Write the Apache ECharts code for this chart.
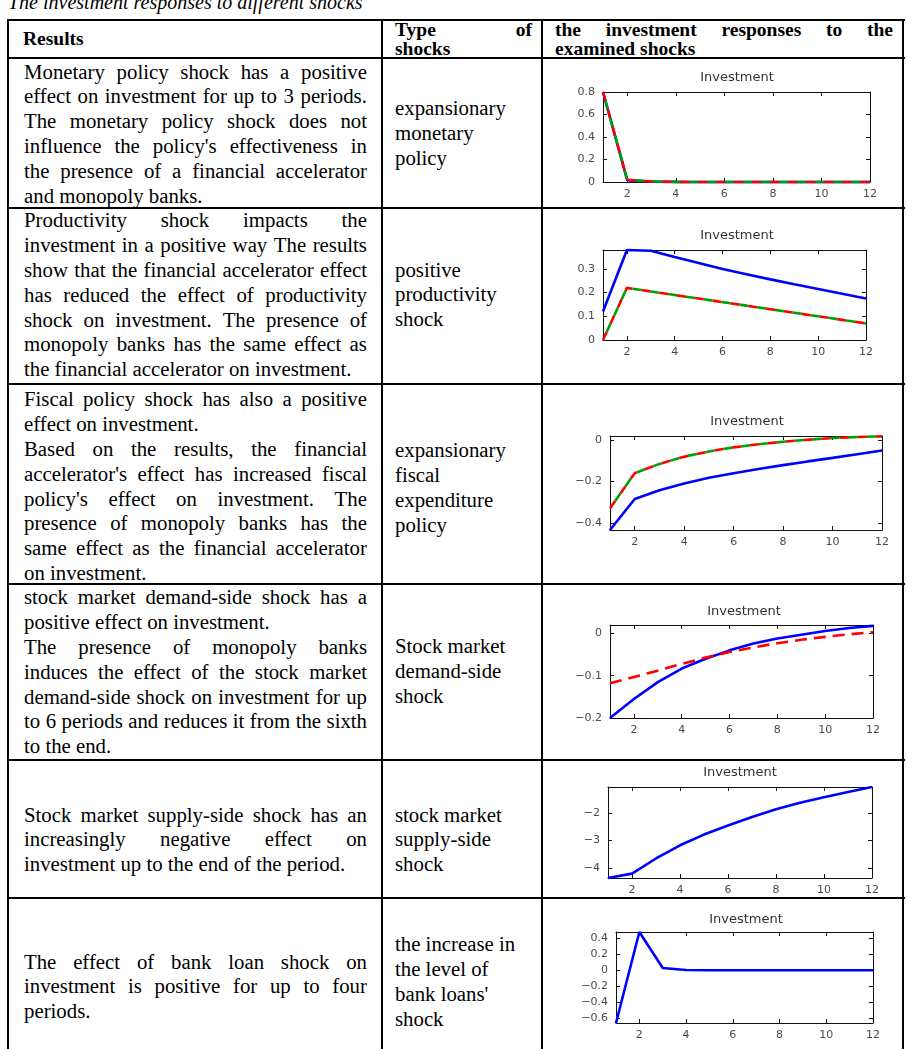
<!DOCTYPE html>
<html>
<head>
<meta charset="utf-8">
<script src="https://cdn.jsdelivr.net/npm/echarts/dist/echarts.min.js"></script>
<style>
html,body{margin:0;padding:0;background:#fff;}
body{width:906px;height:1049px;overflow:hidden;position:relative;font-family:"Liberation Serif","Times New Roman",serif;color:#000;}
.hl{position:absolute;height:2px;background:#000;}
.vl{position:absolute;width:2px;background:#000;}
.blk{position:absolute;font-size:20.8px;}
.ln{height:24.9px;line-height:24.9px;white-space:nowrap;}
.j{display:flex;justify-content:space-between;}
.hdr{font-weight:bold;font-size:19.5px;}
.hdr .ln{height:18.5px;line-height:18.5px;}
#cap{position:absolute;left:8px;top:-10px;font-style:italic;font-size:20px;line-height:24px;white-space:nowrap;}
#chart{position:absolute;left:0;top:0;width:906px;height:1049px;z-index:2;}
</style>
</head>
<body>
<div id="cap">The investment responses to different shocks</div>
<div id="table"></div>
<div id="chart"></div>
<script>
// ---------------- DATA ----------------
const periods = [1,2,3,4,5,6,7,8,9,10,11,12];
const xTickValues = [2,4,6,8,10,12];

// 1) expansionary monetary policy
const monetaryBlue  = [0.8,0.015,0.003,0.001,0,0,0,0,0,0,0,0];
const monetaryRed   = [0.8,0.02,0.004,0.001,0,0,0,0,0,0,0,0];
const monetaryGreen = [0.8,0.02,0.004,0.001,0,0,0,0,0,0,0,0];
const monetaryYTicks = [0,0.2,0.4,0.6,0.8];

// 2) positive productivity shock
const productivityBlue  = [0.12,0.38,0.377,0.35,0.325,0.3,0.278,0.256,0.235,0.215,0.195,0.175];
const productivityRed   = [0,0.22,0.205,0.19,0.175,0.16,0.145,0.13,0.115,0.1,0.085,0.07];
const productivityGreen = [0,0.22,0.205,0.19,0.175,0.16,0.145,0.13,0.115,0.1,0.085,0.07];
const productivityYTicks = [0,0.1,0.2,0.3];

// 3) expansionary fiscal expenditure policy
const fiscalBlue  = [-0.435,-0.285,-0.243,-0.21,-0.182,-0.16,-0.14,-0.121,-0.103,-0.086,-0.068,-0.05];
const fiscalRed   = [-0.33,-0.16,-0.115,-0.08,-0.055,-0.035,-0.02,-0.008,0.002,0.01,0.015,0.018];
const fiscalGreen = [-0.33,-0.16,-0.115,-0.08,-0.055,-0.035,-0.02,-0.008,0.002,0.01,0.015,0.018];
const fiscalYTicks = [-0.4,-0.2,0];

// 4) stock market demand-side shock
const demandBlue = [-0.2,-0.155,-0.115,-0.083,-0.06,-0.04,-0.024,-0.012,-0.003,0.006,0.013,0.018];
const demandRed  = [-0.118,-0.103,-0.088,-0.072,-0.057,-0.044,-0.033,-0.023,-0.015,-0.008,-0.002,0.003];
const demandYTicks = [-0.2,-0.1,0];

// 5) stock market supply-side shock
const supplyBlue = [-4.36,-4.2,-3.65,-3.17,-2.78,-2.45,-2.14,-1.86,-1.62,-1.42,-1.23,-1.05];
const supplyYTicks = [-4,-3,-2];

// 6) bank loans shock
const loanBlue = [-0.66,0.48,0.03,0.004,0,0,0,0,0,0,0,0];
const loanYTicks = [-0.6,-0.4,-0.2,0,0.2,0.4];

// ---------------- TABLE ----------------
const H_LINES = [20,58,208,384,584,760,898];
const V_LINES = [8,382,542,903];
const tbl = document.getElementById('table');
H_LINES.forEach(y=>{const d=document.createElement('div');d.className='hl';d.style.left='8px';d.style.width='897px';d.style.top=(y-1)+'px';tbl.appendChild(d);});
V_LINES.forEach(x=>{const d=document.createElement('div');d.className='vl';d.style.left=(x-1)+'px';d.style.top=(H_LINES[0]-1)+'px';d.style.height='1100px';tbl.appendChild(d);});

// '^' prefix = line not justified
const blocks = [
 {x:23,y:30,w:120,hdr:true,lines:['^Results']},
 {x:395,y:21,w:137,hdr:true,lines:['Type of','^shocks']},
 {x:555,y:21,w:338,hdr:true,lines:['the investment responses to the','^examined shocks']},
 {x:24,y:59.5,w:343,lines:['Monetary policy shock has a positive','effect on investment for up to 3 periods.','The monetary policy shock does not',"influence the policy's effectiveness in",'the presence of a financial accelerator','^and monopoly banks.']},
 {x:395,y:96,w:137,lines:['^expansionary','^monetary','^policy']},
 {x:24,y:208,w:343,lines:['Productivity shock impacts the','investment in a positive way The results','show that the financial accelerator effect','has reduced the effect of productivity','shock on investment. The presence of','monopoly banks has the same effect as','^the financial accelerator on investment.']},
 {x:395,y:257.5,w:137,lines:['^positive','^productivity','^shock']},
 {x:24,y:387,w:343,lines:['Fiscal policy shock has also a positive','^effect on investment.','Based on the results, the financial',"accelerator's effect has increased fiscal","policy's effect on investment. The",'presence of monopoly banks has the','same effect as the financial accelerator','^on investment.']},
 {x:395,y:438,w:137,lines:['^expansionary','^fiscal','^expenditure','^policy']},
 {x:24,y:585,w:343,lines:['stock market demand-side shock has a','^positive effect on investment.','The presence of monopoly banks','induces the effect of the stock market','demand-side shock on investment for up','to 6 periods and reduces it from the sixth','^to the end.']},
 {x:395,y:634,w:137,lines:['^Stock market','^demand-side','^shock']},
 {x:24,y:802.5,w:343,lines:['Stock market supply-side shock has an','increasingly negative effect on','^investment up to the end of the period.']},
 {x:395,y:802.5,w:137,lines:['^stock market','^supply-side','^shock']},
 {x:24,y:949.5,w:343,lines:['The effect of bank loan shock on','investment is positive for up to four','^periods.']},
 {x:395,y:932,w:137,lines:['^the increase in','^the level of',"^bank loans'",'^shock']}
];
blocks.forEach(b=>{
  const d=document.createElement('div');
  d.className='blk'+(b.hdr?' hdr':'');
  d.style.left=b.x+'px';d.style.top=b.y+'px';d.style.width=b.w+'px';
  b.lines.forEach(t=>{
    const l=document.createElement('div');
    if(t[0]==='^'){l.className='ln';l.textContent=t.slice(1);}
    else{l.className='ln j';t.split(' ').forEach(w=>{const s=document.createElement('span');s.textContent=w;l.appendChild(s);});}
    d.appendChild(l);
  });
  tbl.appendChild(d);
});

// ---------------- CHARTS ----------------
const BLUE={color:'#0000ff',width:2.6,type:'solid'};
const RED={color:'#ff0000',width:2.6,type:[9,9]};
const GREEN={color:'#00a000',width:2.6,type:[9,9],dashOffset:9};
const RED4={color:'#ff0000',width:2.6,type:[12,7]};

const panels = [
 {grid:{left:603,top:92,width:267,height:90},yMin:0,yMax:0.8,yTicks:monetaryYTicks,title:[737,78],
  series:[[monetaryBlue,BLUE],[monetaryRed,RED],[monetaryGreen,GREEN]]},
 {grid:{left:603,top:250,width:263,height:90},yMin:0,yMax:0.38,yTicks:productivityYTicks,title:[737,236],
  series:[[productivityBlue,BLUE],[productivityRed,RED],[productivityGreen,GREEN]]},
 {grid:{left:610,top:436,width:272,height:94},yMin:-0.435,yMax:0.02,yTicks:fiscalYTicks,title:[747,422],
  series:[[fiscalBlue,BLUE],[fiscalRed,RED],[fiscalGreen,GREEN]]},
 {grid:{left:610,top:625,width:263,height:93},yMin:-0.2,yMax:0.02,yTicks:demandYTicks,title:[744,612],
  series:[[demandBlue,BLUE],[demandRed,RED4]]},
 {grid:{left:608,top:787,width:264,height:91},yMin:-4.36,yMax:-1.05,yTicks:supplyYTicks,title:[740,773],
  series:[[supplyBlue,BLUE]]},
 {grid:{left:616,top:932,width:257,height:91},yMin:-0.66,yMax:0.48,yTicks:loanYTicks,title:[746,920],
  series:[[loanBlue,BLUE]]}
];

const LBL={fontSize:11,color:'#4a4a4a',fontFamily:'DejaVu Sans'};
const fmt=v=>String(Math.round(v*1000)/1000).replace('-','\u2212');
const option={animation:false,grid:[],xAxis:[],yAxis:[],series:[],graphic:[]};
panels.forEach((p,i)=>{
  option.grid.push(Object.assign({show:false},p.grid));
  const common=(pos,lab,isX)=>({
    gridIndex:i,type:'value',position:pos,
    min:isX?1:p.yMin,max:isX?12:p.yMax,
    axisLine:{show:true,onZero:false,lineStyle:{color:'#111',width:1}},
    axisTick:{show:true,inside:true,length:4,customValues:isX?xTickValues:p.yTicks,lineStyle:{color:'#111',width:1}},
    axisLabel:Object.assign({show:lab,customValues:isX?xTickValues:p.yTicks,margin:isX?7:8,formatter:fmt},LBL),
    splitLine:{show:false}
  });
  const xb=option.xAxis.length;
  option.xAxis.push(common('bottom',true,true));
  option.xAxis.push(common('top',false,true));
  const yb=option.yAxis.length;
  option.yAxis.push(common('left',true,false));
  option.yAxis.push(common('right',false,false));
  p.series.forEach(([vals,st])=>{
    option.series.push({type:'line',xAxisIndex:xb,yAxisIndex:yb,showSymbol:false,symbol:'none',clip:false,
      lineStyle:Object.assign({},st),data:periods.map((x,k)=>[x,vals[k]])});
  });
  option.graphic.push({type:'text',x:p.title[0],y:p.title[1],style:{text:'Investment',textAlign:'center',textVerticalAlign:'middle',fontSize:13,fontFamily:'DejaVu Sans',fill:'#333'}});
});
const ch=echarts.init(document.getElementById('chart'),null,{renderer:'canvas'});
ch.setOption(option);
</script>
</body>
</html>
